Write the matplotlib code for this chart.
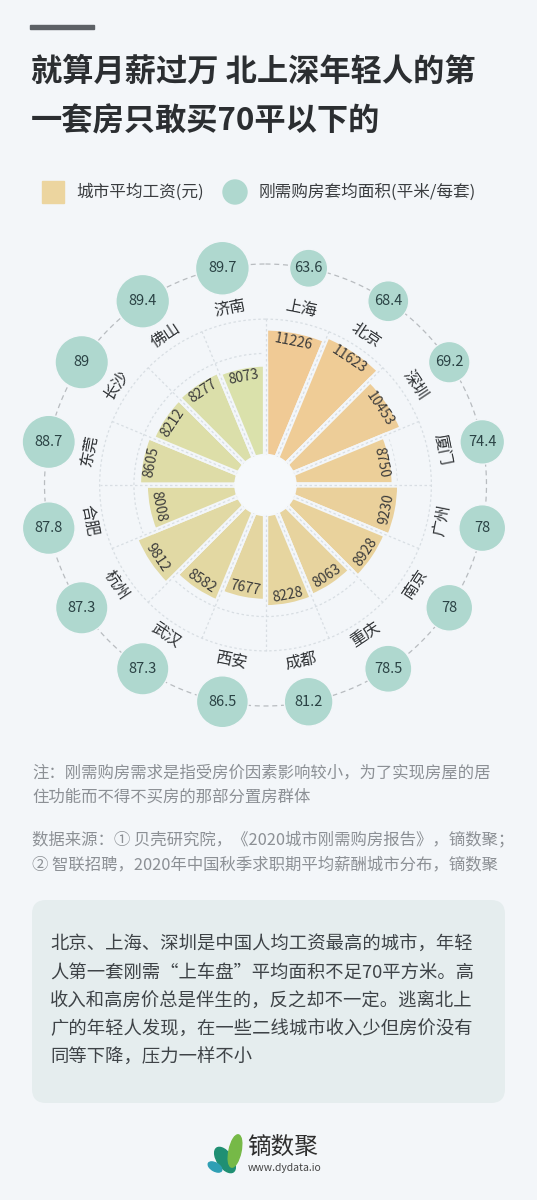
import matplotlib.pyplot as plt
import numpy as np
import matplotlib.colors as mcolors
from matplotlib.patches import FancyBboxPatch, Rectangle, Circle, Ellipse

plt.rcParams['font.family'] = ['Noto Sans CJK SC', 'DejaVu Sans']

# datos (sentido horario desde arriba)
ciudades = ['上海', '北京', '深圳', '厦门', '广州', '南京', '重庆', '成都',
            '西安', '武汉', '杭州', '合肥', '东莞', '长沙', '佛山', '济南']
salario = [11226, 11623, 10453, 8750, 9230, 8928, 8063, 8228,
           7677, 8582, 9812, 8008, 8605, 8212, 8277, 8073]
area = [63.6, 68.4, 69.2, 74.4, 78, 78, 78.5, 81.2,
        86.5, 87.3, 87.3, 87.8, 88.7, 89, 89.4, 89.7]
rticks = [3000, 6000, 9000, 12000]

titulo = ['就算月薪过万 北上深年轻人的第', '一套房只敢买70平以下的']
leyenda = ['城市平均工资(元)', '刚需购房套均面积(平米/每套)']
nota = ['注：刚需购房需求是指受房价因素影响较小，为了实现房屋的居',
        '住功能而不得不买房的那部分置房群体']
fuente = ['数据来源：① 贝壳研究院，《2020城市刚需购房报告》，镝数聚；',
          '② 智联招聘，2020年中国秋季求职期平均薪酬城市分布，镝数聚']
texto = ['北京、上海、深圳是中国人均工资最高的城市，年轻',
         '人第一套刚需“上车盘”平均面积不足70平方米。高',
         '收入和高房价总是伴生的，反之却不一定。逃离北上',
         '广的年轻人发现，在一些二线城市收入少但房价没有',
         '同等下降，压力一样不小']

W, H = 537, 1200
fondo = '#f3f6f9'
c_naranja = '#f0ca95'
c_verde = '#dae1ab'
c_burbuja = '#afd8cf'

fig = plt.figure(figsize=(W / 100, H / 100), dpi=100, facecolor=fondo)

# capa de fondo en pixeles
ax0 = fig.add_axes([0, 0, 1, 1])
ax0.set_xlim(0, W)
ax0.set_ylim(H, 0)
ax0.axis('off')

ax0.add_patch(Rectangle((30, 25), 64, 4, color='#5d6166'))
for j, linea in enumerate(titulo):
    ax0.text(31, 72 + 50 * j, linea, fontsize=22.5, fontweight='bold',
             color='#2b2e31', va='center', ha='left')

ax0.add_patch(Rectangle((42, 181), 22, 22, color='#ecd59f'))
ax0.text(76, 192, leyenda[0], fontsize=12, color='#3a3d40', va='center')
ax0.add_patch(Circle((235, 192), 12, color=c_burbuja))
ax0.text(259, 192, leyenda[1], fontsize=12, color='#3a3d40', va='center')

for j, linea in enumerate(nota):
    ax0.text(32, 773 + 24 * j, linea, fontsize=11.8, color='#8c9095', va='center')
for j, linea in enumerate(fuente):
    ax0.text(32, 840 + 25 * j, linea, fontsize=11.8, color='#8c9095', va='center')

ax0.add_patch(FancyBboxPatch((32, 900), 473, 203,
                             boxstyle='round,pad=0,rounding_size=14',
                             fc='#e5edee', ec='none'))
for j, linea in enumerate(texto):
    ax0.text(50, 945 + 28.3 * j, linea, fontsize=13.2, color='#3e4347', va='center')

# logo
ax0.add_patch(Ellipse((225, 1160), 15, 29, angle=-35, color='#1f8f73'))
ax0.add_patch(Ellipse((235, 1151), 12, 33, angle=12, color='#76b947'))
ax0.add_patch(Ellipse((215, 1167), 8, 15, angle=-60, color='#2f9fb4'))
ax0.text(247, 1147, '镝数聚', fontsize=17, color='#2e2e2e', va='center')
ax0.text(248, 1168, 'www.dydata.io', fontsize=7.5, color='#444444', va='center')

# grafico polar
cx, cy, R = 265.5, 485, 250
k = 0.01144          # px por yuan
r0 = 2500            # hueco central
rmax = R / k - r0
ax = fig.add_axes([(cx - R) / W, 1 - (cy + R) / H, 2 * R / W, 2 * R / H],
                  projection='polar')
ax.set_theta_zero_location('N')
ax.set_theta_direction(-1)
ax.set_ylim(0, rmax)
ax.set_rorigin(-r0)
ax.patch.set_alpha(0)
for sp in ax.spines.values():
    sp.set_visible(False)
ax.set_xticks([])
ax.set_yticks(rticks)
ax.set_yticklabels([])
ax.yaxis.grid(True, color='#d8dee3', linestyle=(0, (2, 2)), linewidth=0.9)
ax.set_axisbelow(True)

n = len(ciudades)
ancho = 2 * np.pi / n
theta = (np.arange(n) + 0.5) * ancho
c1 = np.array(mcolors.to_rgb(c_naranja))
c2 = np.array(mcolors.to_rgb(c_verde))
colores = [c1 + (c2 - c1) * i / (n - 1) for i in range(n)]

ax.bar(theta, salario, width=ancho, bottom=0, color=colores, edgecolor=fondo,
       linewidth=3.8, zorder=2)
for b in np.arange(n) * ancho:
    ax.plot([b, b], [0, rticks[-1]], color='#d8dee3', linestyle=(0, (2, 2)),
            linewidth=0.9, zorder=3)

r_burbuja = 221 / k - r0
r_nombre = 180 / k - r0
tt = np.linspace(0, 2 * np.pi, 400)
ax.plot(tt, np.full_like(tt, r_burbuja), color='#b8bcc0', linestyle=(0, (4, 3)),
        linewidth=0.9, zorder=4)
ax.scatter(theta, np.full(n, r_burbuja), s=(0.432 * np.array(area)) ** 2,
           color=c_burbuja, edgecolors=fondo, linewidths=1, zorder=5, clip_on=False)

for i in range(n):
    ang = np.degrees(theta[i])
    rot = -ang
    if 90 < ang < 270:
        rot += 180
    ax.text(theta[i], salario[i] - 950, str(salario[i]), rotation=rot,
            rotation_mode='anchor', ha='center', va='center', fontsize=10,
            color='#3a3a3a', zorder=6)
    ax.text(theta[i], r_nombre, ciudades[i], rotation=rot, rotation_mode='anchor',
            ha='center', va='center', fontsize=11.5, color='#2f3235', zorder=6)
    ax.text(theta[i], r_burbuja, f'{area[i]:g}', ha='center', va='center',
            fontsize=10.5, color='#2a4244', zorder=6)

# tapa central
fig.add_artist(Ellipse((cx / W, 1 - cy / H), 2 * 30 / W, 2 * 30 / H,
                       transform=fig.transFigure, color='#f6f9fb', zorder=5))

fig.savefig('out.png', dpi=100, facecolor=fondo)
